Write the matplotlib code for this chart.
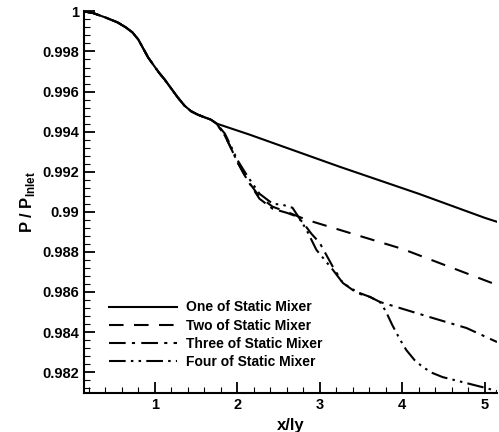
import numpy as np
import matplotlib
matplotlib.use('Agg')
import matplotlib.pyplot as plt
from matplotlib.ticker import MultipleLocator

plt.rcParams['font.family'] = ['Liberation Sans', 'DejaVu Sans']
plt.rcParams['mathtext.fontset'] = 'custom'
plt.rcParams['mathtext.rm'] = 'Liberation Sans:bold'
plt.rcParams['mathtext.bf'] = 'Liberation Sans:bold'

# tratto comune (prima della separazione delle curve)
x_common = [0.14, 0.25, 0.4, 0.55, 0.65, 0.73, 0.80, 0.86, 0.92, 0.98, 1.05, 1.12, 1.20,
            1.28, 1.36, 1.44, 1.52, 1.60, 1.68, 1.75]
y_common = [1.0, 0.99992, 0.9997, 0.99945, 0.9992, 0.99895, 0.9986, 0.99815, 0.9977, 0.99735,
            0.99695, 0.9966, 0.99615, 0.9957, 0.9953, 0.99502, 0.99485, 0.99472, 0.9946, 0.9944]

# One of Static Mixer
x_one = [2.15, 3.24, 4.2, 5.0, 5.15]
y_one = [0.99385, 0.99225, 0.9909, 0.9897, 0.9895]

# Two of Static Mixer
x_two = [1.85, 1.91, 2.0, 2.12, 2.27, 2.43, 2.60, 2.84, 3.16, 4.0, 5.15]
y_two = [0.9938, 0.9933, 0.9925, 0.9916, 0.99075, 0.99025, 0.9900, 0.9896, 0.9892, 0.98815, 0.98635]

# Three of Static Mixer
x_three = [1.85, 1.91, 2.0, 2.12, 2.27, 2.43, 2.60, 2.70, 2.79, 2.9, 3.0, 3.16, 3.28, 3.45,
           3.61, 3.73, 3.97, 4.37, 4.78, 5.15]
y_three = [0.9938, 0.9933, 0.9925, 0.9916, 0.99065, 0.99015, 0.98995, 0.9898, 0.9895, 0.9889,
           0.98845, 0.98725, 0.98645, 0.98595, 0.98575, 0.9855, 0.9852, 0.9847, 0.9842, 0.9835]

# Four of Static Mixer
x_four = [1.85, 1.91, 2.0, 2.12, 2.27, 2.43, 2.55, 2.67, 2.75, 2.84, 2.96, 3.16, 3.28, 3.45,
          3.61, 3.73, 3.80, 3.88, 3.97, 4.05, 4.15, 4.25, 4.37, 4.49, 4.78, 5.02, 5.15]
y_four = [0.9939, 0.9934, 0.9926, 0.9918, 0.9909, 0.9904, 0.99035, 0.9902, 0.9897, 0.9891,
          0.9881, 0.9871, 0.98645, 0.986, 0.98575, 0.9855, 0.98505, 0.98435, 0.98365, 0.9831,
          0.9826, 0.98225, 0.98195, 0.98175, 0.98145, 0.9812, 0.98105]

labels = ['One of Static Mixer', 'Two of Static Mixer', 'Three of Static Mixer', 'Four of Static Mixer']
y_ticks = [0.982, 0.984, 0.986, 0.988, 0.99, 0.992, 0.994, 0.996, 0.998, 1]
y_ticklabels = ['0.982', '0.984', '0.986', '0.988', '0.99', '0.992', '0.994', '0.996', '0.998', '1']
x_ticks = [1, 2, 3, 4, 5]

fig = plt.figure(figsize=(4.99, 4.32), dpi=100)
ax = fig.add_axes([0.168, 0.090, 0.828, 0.885])

styles = ['-', (0, (7, 5)), (0, (8, 3, 1.5, 3)), (0, (8, 2.5, 1.2, 2.5, 1.2, 2.5))]
serie = [(x_one, y_one), (x_two, y_two), (x_three, y_three), (x_four, y_four)]
for (xs, ys), ls, lab in zip(serie, styles, labels):
    ax.plot(x_common + xs, y_common + ys, color='black', linestyle=ls, lw=1.5, label=lab)

ax.set_xlim(0.14, 5.15)
ax.set_ylim(0.98095, 1.00003)
ax.set_xticks(x_ticks)
ax.set_xticklabels([str(v) for v in x_ticks])
ax.set_yticks(y_ticks)
ax.set_yticklabels(y_ticklabels)
ax.xaxis.set_minor_locator(MultipleLocator(0.2))
ax.yaxis.set_minor_locator(MultipleLocator(0.0004))
ax.tick_params(which='major', direction='in', length=8, width=1.3, labelsize=10.5)
ax.tick_params(which='minor', direction='in', length=4, width=0.8)
for lab in ax.get_xticklabels() + ax.get_yticklabels():
    lab.set_fontweight('bold')
ax.spines['top'].set_visible(False)
ax.spines['right'].set_visible(False)
ax.spines['left'].set_linewidth(1.5)
ax.spines['bottom'].set_linewidth(1.5)

ax.set_xlabel('x/ly', fontsize=12, fontweight='bold')
ax.set_ylabel(r'P / P$_{\mathbf{Inlet}}$', fontsize=12, fontweight='bold')

ax.legend(loc='upper left', bbox_to_anchor=(0.03, 0.275), frameon=False,
          handlelength=4.9, handletextpad=0.65, labelspacing=0.3,
          prop={'weight': 'bold', 'size': 10})

fig.savefig('out.png', dpi=100)
